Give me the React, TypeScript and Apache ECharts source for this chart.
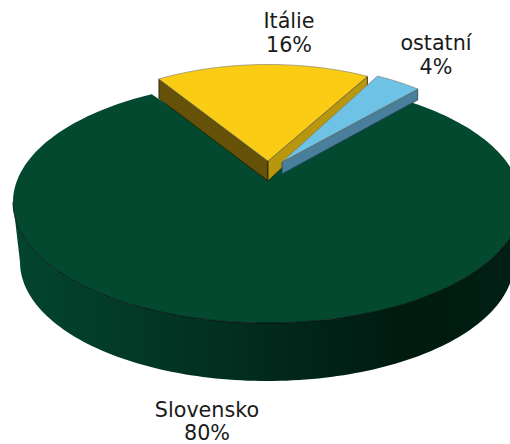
import React, { useEffect, useRef } from "react";
import * as echarts from "echarts";

const categories = ["Slovensko", "Itálie", "ostatní"];
const shares = [80, 16, 4];

// Layout of the drawing (pixels / degrees clockwise from 12 o'clock)
const sliceLayout = [
  { cx: 267, cy: 202, rx: 254, ry: 121, start: 33.8, sweepScale: 299.2 / 288, apexX: 267, apexY: 172, top: "#03492F" },
  { cx: 268, cy: 161, rx: 207, ry: 96.5, start: -31.8, sweepScale: 60.5 / 57.6, apexX: 268, apexY: 161, top: "#FACD14" },
  { cx: 282, cy: 162, rx: 206, ry: 97, start: 27.6, sweepScale: 13.6 / 14.4, apexX: 282, apexY: 162, top: "#6EC2E6" },
];
const labelLayout = [
  { x: 207, y: 421.5, lineHeight: 22.5 },
  { x: 289, y: 33, lineHeight: 24.5 },
  { x: 436, y: 55, lineHeight: 24.5 },
];
const bottomRim = { cx: 267, cy: 262, rx: 247, ry: 119 };
const wedgeSides = [
  null,
  { apexDepth: 20, startDepth: 19.5, endDepth: 11, startFill: "#655208", endFill: "#B8960E" },
  { apexDepth: 12, startDepth: 0, endDepth: 11, startFill: "#4A7F9B", endFill: "#4A7F9B" },
];

const rad = (d: number) => (d * Math.PI) / 180;
const onEllipse = (e: { cx: number; cy: number; rx: number; ry: number }, a: number) => [
  e.cx + e.rx * Math.sin(rad(a)),
  e.cy - e.ry * Math.cos(rad(a)),
];
const arc = (e: { cx: number; cy: number; rx: number; ry: number }, a0: number, a1: number) => {
  const n = Math.max(8, Math.ceil(Math.abs(a1 - a0) / 1.5));
  const pts: number[][] = [];
  for (let i = 0; i <= n; i++) pts.push(onEllipse(e, a0 + ((a1 - a0) * i) / n));
  return pts;
};

const renderItem = (params: any, api: any) => {
  const i = params.dataIndex;
  const value = api.value(0) as number;
  const l = sliceLayout[i];
  const a0 = l.start;
  const a1 = a0 + value * 3.6 * l.sweepScale;
  const children: any[] = [];
  const edge = "#1f1a05";

  if (i === 0) {
    const front = [...arc(l, 90, 270), ...arc(bottomRim, 270, 90)];
    children.push({
      type: "polygon",
      shape: { points: front },
      style: {
        fill: new echarts.graphic.LinearGradient(
          13, 0, 521, 0,
          [
            { offset: 0, color: "#03452E" },
            { offset: 0.18, color: "#023C28" },
            { offset: 0.4, color: "#023020" },
            { offset: 0.6, color: "#012418" },
            { offset: 0.78, color: "#001A0F" },
            { offset: 1, color: "#012015" },
          ],
          true
        ),
        stroke: "none",
      },
    });
  } else {
    const s = wedgeSides[i]!;
    const p0 = onEllipse(l, a0);
    const p1 = onEllipse(l, a1);
    const apex = [l.apexX, l.apexY];
    const apexLow = [l.apexX, l.apexY + s.apexDepth];
    if (s.startDepth > 0) {
      children.push({
        type: "polygon",
        shape: { points: [apex, apexLow, [p0[0], p0[1] + s.startDepth], p0] },
        style: { fill: s.startFill, stroke: edge, lineWidth: 0.8 },
      });
    }
    children.push({
      type: "polygon",
      shape: { points: [apex, apexLow, [p1[0], p1[1] + s.endDepth], p1] },
      style: { fill: s.endFill, stroke: i === 2 ? "#1d3f50" : edge, lineWidth: 0.8 },
    });
  }

  children.push({
    type: "polygon",
    shape: { points: [[l.apexX, l.apexY], ...arc(l, a0, a1)] },
    style: i === 0
      ? { fill: l.top, stroke: "none" }
      : { fill: l.top, stroke: "#77776a", lineWidth: 0.6 },
  });
  if (i === 0) {
    children.push({
      type: "polyline",
      shape: { points: arc(l, 90, 270) },
      style: { fill: "none", stroke: "#000000", lineWidth: 0.7 },
    });
  }

  children.push({
    type: "text",
    style: {
      text: `${categories[i]}\n${value}%`,
      x: labelLayout[i].x,
      y: labelLayout[i].y,
      align: "center",
      verticalAlign: "middle",
      fill: "#1a1a1a",
      fontFamily: "DejaVu Sans",
      fontSize: 20.7,
      lineHeight: labelLayout[i].lineHeight,
    },
  });

  return { type: "group", children };
};

export default function App() {
  const ref = useRef<HTMLDivElement>(null);
  useEffect(() => {
    const chart = echarts.init(ref.current!, undefined, { renderer: "svg" });
    chart.setOption({
      animation: false,
      backgroundColor: "#ffffff",
      series: [
        {
          type: "custom",
          coordinateSystem: "none",
          silent: true,
          clip: false,
          renderItem,
          data: shares.map((v, i) => ({ name: categories[i], value: [v] })),
        },
      ],
    });
    return () => chart.dispose();
  }, []);
  return (
    <div
      ref={ref}
      style={{ position: "absolute", left: 0, top: 0, width: 510, height: 444, overflow: "hidden" }}
    />
  );
}
